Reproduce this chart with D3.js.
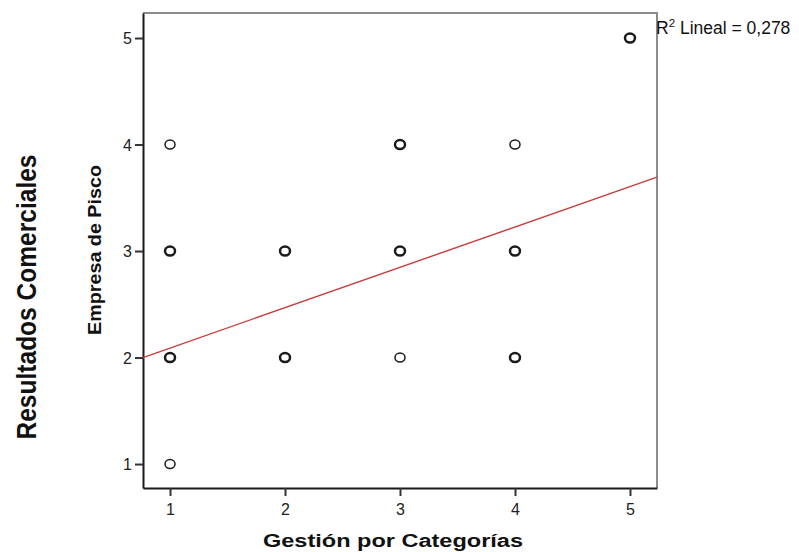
<!DOCTYPE html>
<html>
<head>
<meta charset="utf-8">
<script src="https://cdn.jsdelivr.net/npm/d3@7"></script>
<style>
  html, body { margin: 0; padding: 0; background: #fff; }
  svg { display: block; font-family: "Liberation Sans", Arial, sans-serif; }
</style>
</head>
<body>
<svg id="chart" width="799" height="552"></svg>
<script>
// Observed (Gestión, Resultados) pairs; repeated pairs are drawn heavier
const gestion    = [1, 1, 1, 1, 1, 1, 2, 2, 2, 2, 3, 3, 3, 3, 3, 4, 4, 4, 4, 4, 5, 5];
const resultados = [1, 2, 2, 3, 3, 4, 2, 2, 3, 3, 2, 3, 3, 4, 4, 2, 2, 3, 3, 4, 5, 5];
const xTicks = [1, 2, 3, 4, 5];
const yTicks = [1, 2, 3, 4, 5];
// Linear fit line
const fitIntercept = 1.71;
const fitSlope = 0.379;
const r2Label = "0,278";

const svg = d3.select("#chart");
const plot = { left: 143, top: 13, right: 657, bottom: 488 };

const x = d3.scaleLinear().domain([0.765, 5.235]).range([plot.left, plot.right]);
const y = d3.scaleLinear().domain([0.775, 5.235]).range([plot.bottom, plot.top]);

// Frame: gray top/right edges
svg.append("path")
  .attr("d", `M${plot.left},${plot.top}H${plot.right}V${plot.bottom}`)
  .attr("fill", "none").attr("stroke", "#8c8c8c").attr("stroke-width", 2);

// Axes
const xAxis = svg.append("g")
  .attr("transform", `translate(0,${plot.bottom})`)
  .call(d3.axisBottom(x).tickValues(xTicks).tickSizeInner(8).tickSizeOuter(0)
    .tickPadding(8).tickFormat(d3.format("d")));
const yAxis = svg.append("g")
  .attr("transform", `translate(${plot.left},0)`)
  .call(d3.axisLeft(y).tickValues(yTicks).tickSizeInner(8).tickSizeOuter(0)
    .tickPadding(3).tickFormat(d3.format("d")));

[xAxis, yAxis].forEach(g => {
  g.attr("font-size", 16);
  g.select(".domain").attr("stroke", "#1a1a1a").attr("stroke-width", 2);
  g.selectAll(".tick line").attr("stroke", "#333").attr("stroke-width", 2);
  g.selectAll(".tick text").attr("fill", "#222")
    .style("font-family", "'Liberation Sans', Arial, sans-serif");
});
yAxis.selectAll(".tick text").attr("dy", "0.36em");

// Fit line across the plot
const x0 = x.domain()[0], x1 = x.domain()[1];
svg.append("line")
  .attr("x1", x(x0)).attr("y1", y(fitIntercept + fitSlope * x0))
  .attr("x2", x(x1)).attr("y2", y(fitIntercept + fitSlope * x1))
  .attr("stroke", "#c83c3c").attr("stroke-width", 1.4);

// Points, grouped by pair so overlapping cases read heavier
const pts = d3.rollups(gestion.map((g, i) => [g, resultados[i]]), v => v.length, d => d.join(","))
  .map(([k, n]) => { const [a, b] = k.split(",").map(Number); return { a, b, n }; });

svg.append("g").selectAll("ellipse").data(pts).join("ellipse")
  .attr("cx", d => x(d.a)).attr("cy", d => y(d.b))
  .attr("rx", 5).attr("ry", 4.5)
  .attr("fill", "none").attr("stroke", "#1a1a1a")
  .attr("stroke-width", d => d.n > 1 ? 2.5 : 1.5);

// R² annotation
const r2 = svg.append("text").attr("x", 656).attr("y", 34)
  .style("font-size", "17.5px").attr("fill", "#111");
r2.append("tspan").text("R");
r2.append("tspan").attr("dy", -7).style("font-size", "11.5px").text("2");
r2.append("tspan").attr("dy", 7).text(" Lineal = " + r2Label);

// Axis titles
svg.append("text").attr("x", 393).attr("y", 547)
  .attr("text-anchor", "middle").style("font-size", "18px").style("font-weight", "bold")
  .attr("fill", "#111").attr("textLength", 260).attr("lengthAdjust", "spacingAndGlyphs")
  .text("Gestión por Categorías");

svg.append("text").attr("transform", "translate(101,250) rotate(-90)")
  .attr("text-anchor", "middle").style("font-size", "19px").style("font-weight", "bold")
  .attr("fill", "#111").attr("textLength", 170).attr("lengthAdjust", "spacingAndGlyphs")
  .text("Empresa de Pisco");

svg.append("text").attr("transform", "translate(36,297) rotate(-90)")
  .attr("text-anchor", "middle").style("font-size", "28px").style("font-weight", "bold")
  .attr("fill", "#111").attr("textLength", 285).attr("lengthAdjust", "spacingAndGlyphs")
  .text("Resultados Comerciales");
</script>
</body>
</html>
